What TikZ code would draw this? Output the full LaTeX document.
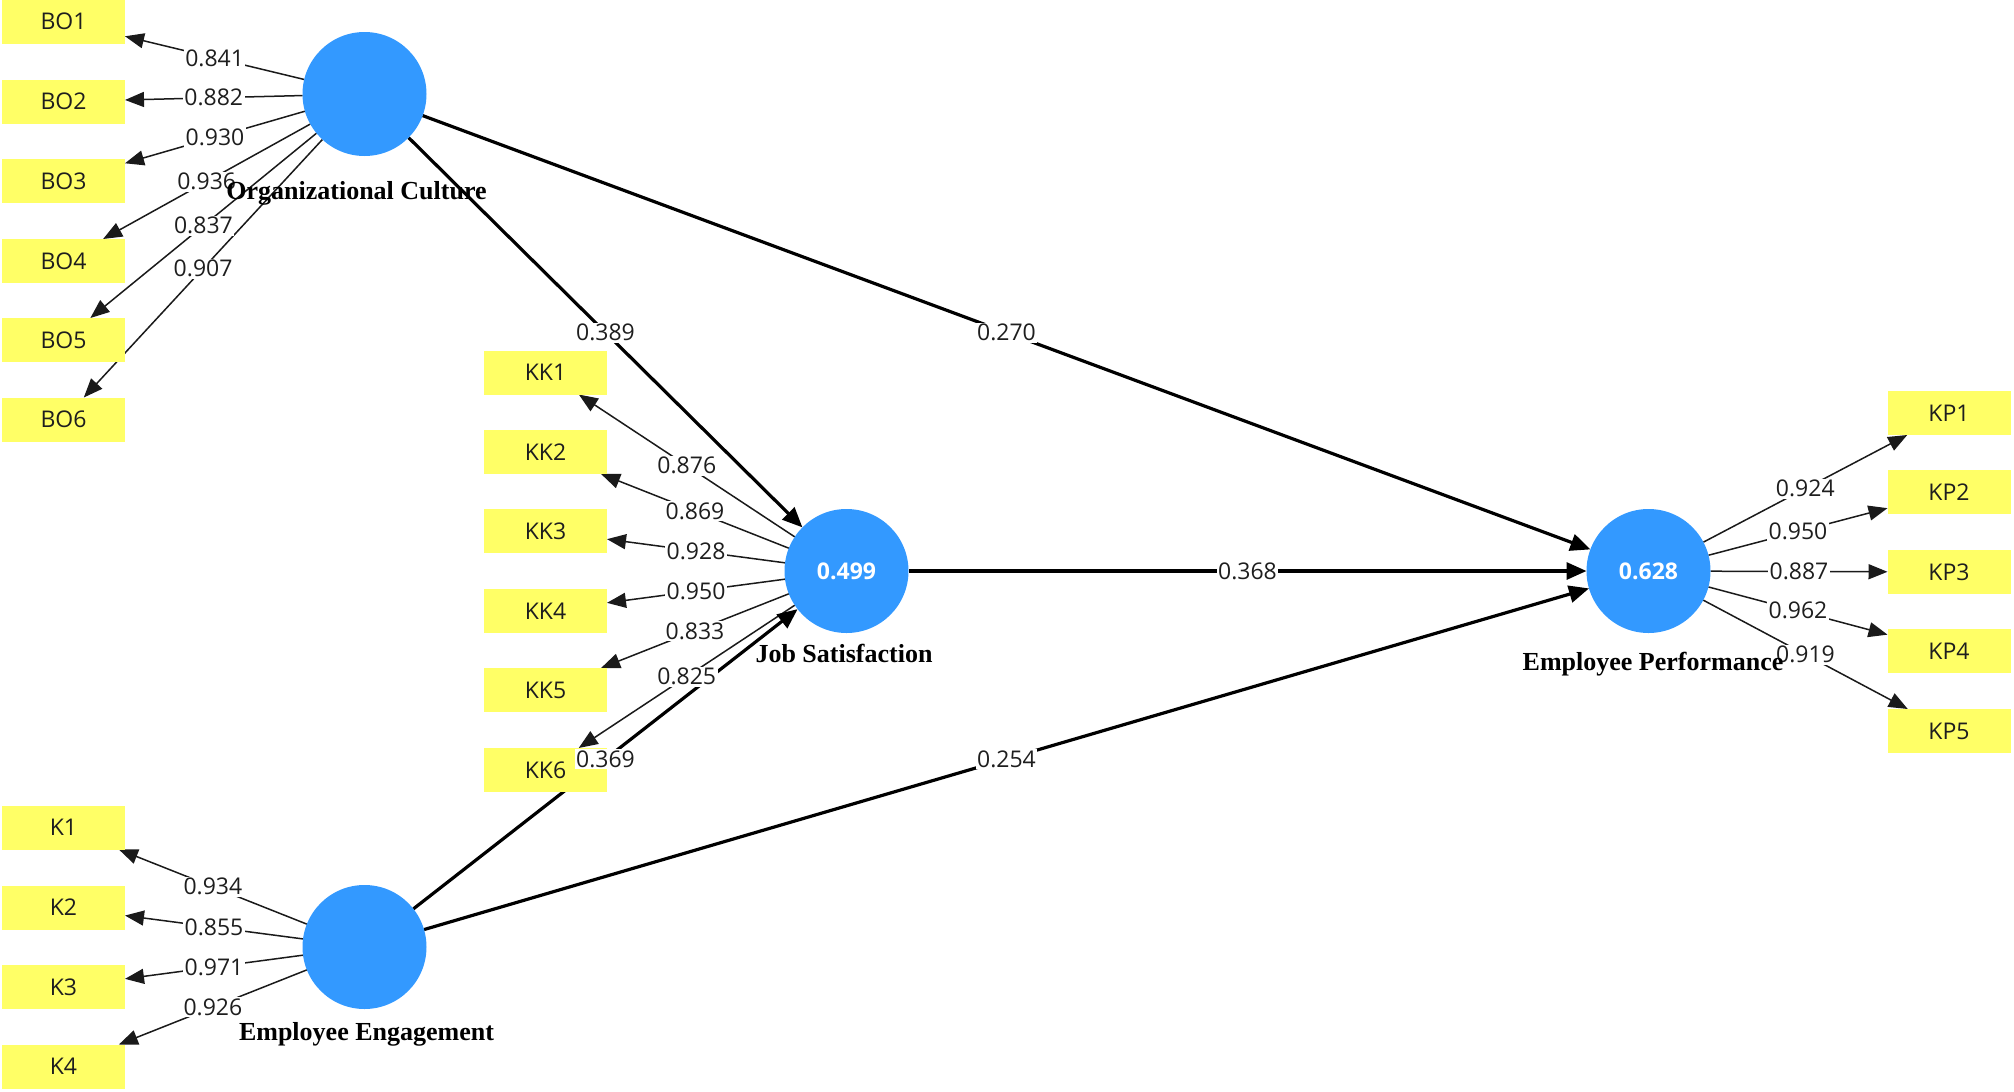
\documentclass[tikz,border=0pt]{standalone}
\usepackage{fontspec}
\setmainfont{Liberation Serif}
\newfontfamily\osans{Open Sans}
\usetikzlibrary{arrows.meta}
\definecolor{boxyellow}{HTML}{FFFF66}
\definecolor{lvblue}{HTML}{3399FF}
\definecolor{lineg}{HTML}{1A1A1A}
\definecolor{txtg}{HTML}{1E1E1E}
\pgfdeclarelayer{canvas}
\pgfdeclarelayer{back}
\pgfsetlayers{canvas,back,main}
\begin{document}
\begin{tikzpicture}[x=1pt,y=-1pt,
 ind/.style={rectangle, fill=boxyellow, minimum width=123pt, minimum height=44pt, inner sep=0pt, outer sep=0pt, text=txtg, font=\osans\fontsize{23}{27}\selectfont},
 lv/.style={circle, fill=lvblue, minimum size=124pt, inner sep=0pt, outer sep=0pt, text=white, font=\osans\bfseries\fontsize{23}{27}\selectfont},
 loadarrow/.style={draw=lineg, line width=1.5pt, -{Triangle[length=19pt,width=15pt]}},
 patharrow/.style={draw=black, line width=3.2pt, -{Triangle[length=20pt,width=17pt]}},
 coef/.style={fill=white, inner sep=1.5pt, text=txtg, font=\osans\fontsize{23}{27}\selectfont},
 lvname/.style={anchor=base, font=\bfseries\fontsize{26}{30}\selectfont}]
\useasboundingbox (0,0) rectangle (2014,1092);
\begin{pgfonlayer}{canvas}
\fill[white] (0,0) rectangle (2014,1092);
\end{pgfonlayer}

% latent variables
\node[lv] (oc) at (364.5,94) {};
\node[lv] (js) at (846.5,571) {0.499};
\node[lv] (ee) at (364.5,947) {};
\node[lv] (ep) at (1648.5,571) {0.628};

% indicators
\foreach \n/\yy in {1/21.5,2/101.5,3/181,4/261,5/340,6/419.5}
  \node[ind] (bo\n) at (63.5,\yy) {BO\n};
\foreach \n/\yy in {1/372.5,2/452,3/531,4/611,5/690,6/770}
  \node[ind] (kk\n) at (545.5,\yy) {KK\n};
\foreach \n/\yy in {1/827.5,2/907.5,3/987,4/1066.5}
  \node[ind] (k\n) at (63.5,\yy) {K\n};
\foreach \n/\yy in {1/413,2/492,3/572,4/651,5/731}
  \node[ind] (kp\n) at (1949,\yy) {KP\n};

% connectors
\begin{pgfonlayer}{back}
\foreach \n in {1,...,6} \draw[loadarrow] (oc) -- (bo\n);
\foreach \n in {1,...,6} \draw[loadarrow] (js) -- (kk\n);
\foreach \n in {1,...,4} \draw[loadarrow] (ee) -- (k\n);
\foreach \n in {1,...,5} \draw[loadarrow] (ep) -- (kp\n);
\draw[patharrow] (oc) -- (js);
\draw[patharrow] (oc) -- (ep);
\draw[patharrow] (js) -- (ep);
\draw[patharrow] (ee) -- (js);
\draw[patharrow] (ee) -- (ep);
\end{pgfonlayer}

% coefficient labels
\foreach \n/\v in {1/0.841,2/0.882,3/0.930,4/0.936,5/0.837,6/0.907}
  \path (oc) -- (bo\n) node[coef, midway] {\v};
\foreach \n/\v in {1/0.876,2/0.869,3/0.928,4/0.950,5/0.833,6/0.825}
  \path (js) -- (kk\n) node[coef, midway] {\v};
\foreach \n/\v in {1/0.934,2/0.855,3/0.971,4/0.926}
  \path (ee) -- (k\n) node[coef, midway] {\v};
\foreach \n/\v in {1/0.924,2/0.950,3/0.887,4/0.962,5/0.919}
  \path (ep) -- (kp\n) node[coef, midway] {\v};
\path (oc) -- (js) node[coef, midway] {0.389};
\path (oc) -- (ep) node[coef, midway] {0.270};
\path (js) -- (ep) node[coef, midway] {0.368};
\path (ee) -- (js) node[coef, midway] {0.369};
\path (ee) -- (ep) node[coef, midway] {0.254};

% construct names
\node[lvname] (ocname) at (356.5,199) {Organizational Culture};
\node[lvname] (jsname) at (844,662) {Job Satisfaction};
\node[lvname] (eename) at (366.5,1040) {Employee Engagement};
\node[lvname] (epname) at (1653,670) {Employee Performance};
\end{tikzpicture}
\end{document}
